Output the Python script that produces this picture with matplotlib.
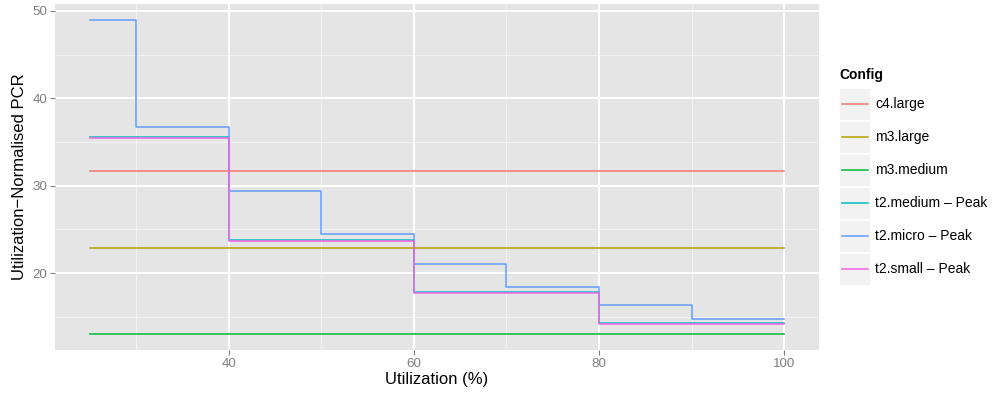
import matplotlib
matplotlib.use("Agg")
import matplotlib.pyplot as plt
from matplotlib.patches import Rectangle
from matplotlib.lines import Line2D

plt.rcParams['font.family'] = ['Liberation Sans', 'DejaVu Sans']

# ---- data ----
configs = ["c4.large", "m3.large", "m3.medium", "t2.medium \u2013 Peak", "t2.micro \u2013 Peak", "t2.small \u2013 Peak"]
colors = ["#F8766D", "#B79F00", "#00BA38", "#00BFC4", "#619CFF", "#F564E3"]

util_flat = [25, 100]
c4_large = [31.7, 31.7]
m3_large = [22.85, 22.85]
m3_medium = [13.0, 13.0]

util_t2 = [25, 40, 60, 80, 100]
t2_medium = [35.62, 23.76, 17.85, 14.3, 14.3]
t2_small = [35.43, 23.64, 17.77, 14.2, 14.2]

util_micro = [25, 30, 40, 50, 60, 70, 80, 90, 100]
t2_micro = [49.0, 36.76, 29.4, 24.52, 21.05, 18.46, 16.36, 14.72, 14.72]

series = [
    (util_flat, c4_large),
    (util_flat, m3_large),
    (util_flat, m3_medium),
    (util_t2, t2_medium),
    (util_micro, t2_micro),
    (util_t2, t2_small),
]

x_ticks = [40, 60, 80, 100]
x_minor = [30, 50, 70, 90]
y_ticks = [20, 30, 40, 50]
y_minor = [15, 25, 35, 45]

# ---- figure ----
W, H = 993, 395
fig = plt.figure(figsize=(W / 100, H / 100), dpi=100)
fig.patch.set_facecolor("white")

L, R, T, B = 55, 819, 4, 350
ax = fig.add_axes([L / W, 1 - B / H, (R - L) / W, (B - T) / H])
ax.set_facecolor("#E5E5E5")
for s in ax.spines.values():
    s.set_visible(False)

for xv in x_minor:
    ax.axvline(xv, color="#F2F2F2", lw=0.75, zorder=0.5)
for yv in y_minor:
    ax.axhline(yv, color="#F2F2F2", lw=0.75, zorder=0.5)
for xv in x_ticks:
    ax.axvline(xv, color="white", lw=1.4, zorder=0.6)
for yv in y_ticks:
    ax.axhline(yv, color="white", lw=1.4, zorder=0.6)

for (xs, ys), c in zip(series, colors):
    ax.plot(xs, ys, drawstyle="steps-post", color=c, lw=1.1, zorder=2)

xmin, xmax = 25, 100
ymin, ymax = 13.0, 49.0
dx = (xmax - xmin) * 0.05
dy = (ymax - ymin) * 0.05
ax.set_xlim(xmin - dx, xmax + dx)
ax.set_ylim(ymin - dy, ymax + dy)

ax.set_xticks(x_ticks)
ax.set_yticks(y_ticks)
ax.tick_params(axis="both", colors="#7F7F7F", length=3.6, width=0.8,
               labelsize=9.6, labelcolor="#7F7F7F")
ax.tick_params(axis="x", pad=2.5)
ax.tick_params(axis="y", pad=2)

ax.set_xlabel("Utilization (%)", fontsize=12, color="black", labelpad=1)
ax.set_ylabel("Utilization\u2212Normalised PCR", fontsize=12, color="black", labelpad=4)

# ---- legend (manual, ggplot style) ----
lax = fig.add_axes([0, 0, 1, 1], facecolor="none")
lax.set_xlim(0, W)
lax.set_ylim(H, 0)
lax.axis("off")
lax.text(839, 75, "Config", fontsize=10, fontweight="bold", va="center", ha="left")
key_x, key_w, key_h = 839, 32, 33
row0 = 104.3
for i, (name, c) in enumerate(zip(configs, colors)):
    cy = row0 + i * key_h
    lax.add_patch(Rectangle((key_x, cy - key_h / 2), key_w, key_h,
                            facecolor="#F2F2F2", edgecolor="white", lw=1.2))
    lax.add_line(Line2D([key_x + 3, key_x + key_w - 3], [cy, cy], color=c, lw=1.1))
    lax.text(875, cy, name, fontsize=10, va="center", ha="left", color="black")

fig.savefig("out.png", dpi=100)
